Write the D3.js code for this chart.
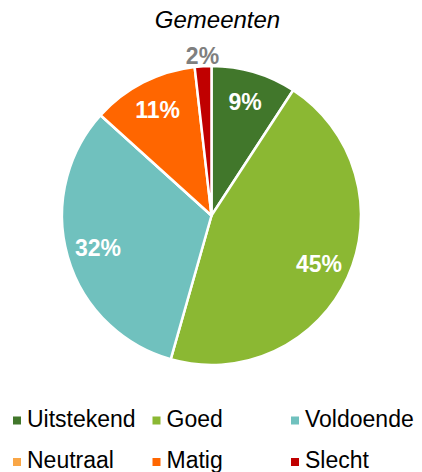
<!DOCTYPE html>
<html>
<head>
<meta charset="utf-8">
<script src="https://cdn.jsdelivr.net/npm/d3@7"></script>
<style>
	body { margin: 0; background: #fff; }
	text { font-family: Arial, "Liberation Sans", sans-serif; }
</style>
</head>
<body>
<div id="viewport"></div>
<script>
// chart data
var categories = ["Uitstekend", "Goed", "Voldoende", "Neutraal", "Matig", "Slecht"];
var values = [9.2, 45.2, 32.3, 0, 11.5, 1.8];
var labels = ["9%", "45%", "32%", "", "11%", "2%"];
var colors = ["#41772b", "#8bb833", "#70c1be", "#f9a646", "#ff6600", "#c00000"];
var title = "Gemeenten";

/**
 * ----------------------------------------------------------------------------------------------------------
 * Setup
 */
var width = 422, height = 472;
var cx = 211.5, cy = 215.5, radius = 149.5;

var svg = d3.select("#viewport").append("svg")
	.attr("width", width)
	.attr("height", height);

// -- title (sits a little right of the pie centre)
svg.append("text")
	.attr("x", 217.5)
	.attr("y", 28)
	.attr("text-anchor", "middle")
	.style("font-size", "24px")
	.style("font-style", "italic")
	.attr("fill", "#000")
	.text(title);

/**
 * ----------------------------------------------------------------------------------------------------------
 * The pie
 */
var pie = d3.pie().sort(null).value(function(d) { return d; });
var arcs = pie(values);

var arc = d3.arc().innerRadius(0).outerRadius(radius);
var labelArc = d3.arc().innerRadius(radius * 0.79).outerRadius(radius * 0.79);
var outerArc = d3.arc().innerRadius(radius + 10).outerRadius(radius + 10);

var g = svg.append("g").attr("transform", "translate(" + cx + "," + cy + ")");

g.selectAll("path")
	.data(arcs)
	.enter().append("path")
	.attr("d", arc)
	.attr("fill", function(d, i) { return colors[i]; })
	.attr("stroke", "#fff")
	.attr("stroke-width", 2.5)
	.attr("stroke-linejoin", "round");

// slice labels, small slices get theirs outside in grey
var isSmall = function(d) { return (d.endAngle - d.startAngle) < 0.2; };

g.selectAll("text.label")
	.data(arcs)
	.enter().append("text")
	.attr("class", "label")
	.attr("transform", function(d) {
		var p = isSmall(d) ? outerArc.centroid(d) : labelArc.centroid(d);
		return "translate(" + p[0] + "," + p[1] + ")";
	})
	.attr("text-anchor", "middle")
	.attr("dy", "0.34em")
	.style("font-size", "23px")
	.style("font-weight", "bold")
	.attr("fill", function(d) { return isSmall(d) ? "#7f7f7f" : "#fff"; })
	.text(function(d, i) { return labels[i]; });

/**
 * ----------------------------------------------------------------------------------------------------------
 * Legend
 */
var colX = [13, 152.5, 291];
var rowY = [426.5, 468];

var legend = svg.selectAll("g.legend")
	.data(categories)
	.enter().append("g")
	.attr("class", "legend")
	.attr("transform", function(d, i) {
		return "translate(" + colX[i % 3] + "," + rowY[Math.floor(i / 3)] + ")";
	});

legend.append("rect")
	.attr("x", 0)
	.attr("y", -10)
	.attr("width", 8)
	.attr("height", 8)
	.attr("fill", function(d, i) { return colors[i]; });

legend.append("text")
	.attr("x", 14)
	.style("font-size", "23px")
	.attr("fill", "#000")
	.text(function(d) { return d; });
</script>
</body>
</html>
